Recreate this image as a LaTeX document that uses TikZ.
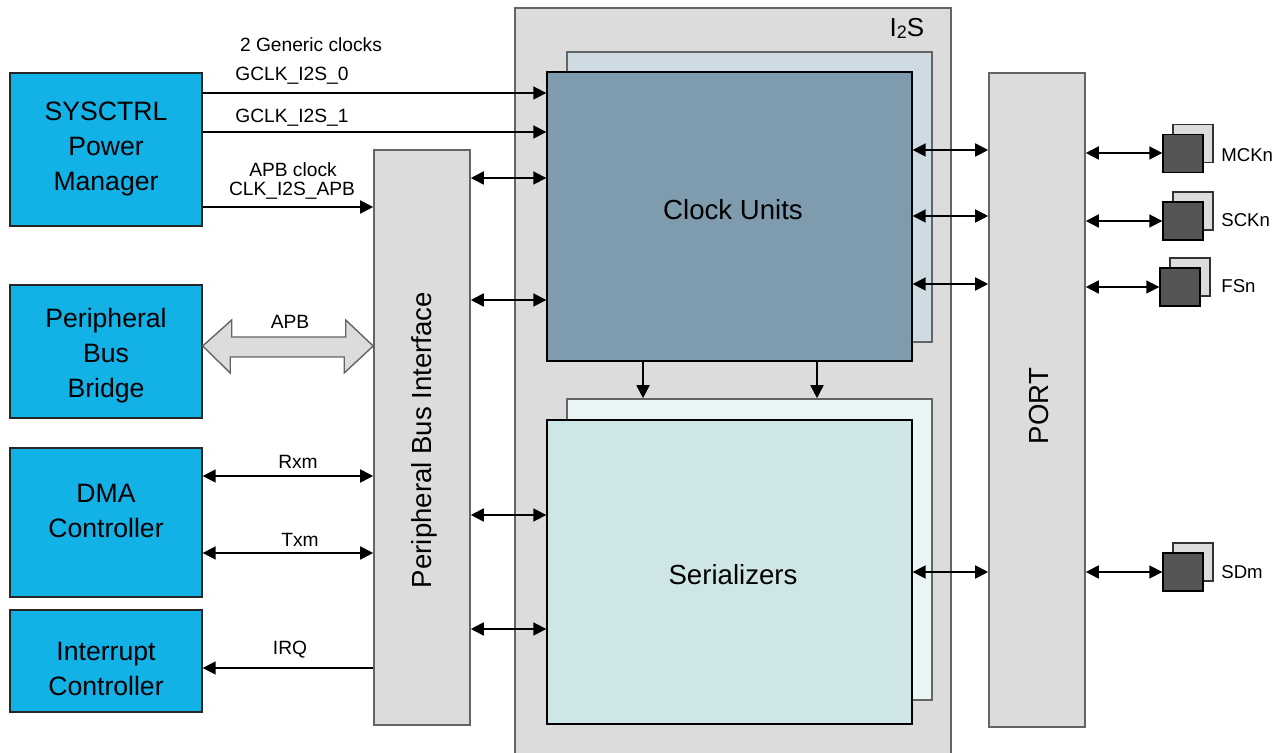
\documentclass[tikz,border=0pt]{standalone}
\usepackage{fontspec}
\setmainfont{Liberation Sans}
\usetikzlibrary{arrows.meta,calc}
\definecolor{ablue}{RGB}{18,178,230}
\definecolor{agray}{RGB}{220,220,220}
\definecolor{aline}{RGB}{100,100,100}
\definecolor{cufront}{RGB}{127,156,175}
\definecolor{cuback}{RGB}{207,219,226}
\definecolor{sefront}{RGB}{207,230,230}
\definecolor{seback}{RGB}{234,246,246}
\definecolor{pindark}{RGB}{85,85,85}
\tikzset{
  blk/.style={draw=black!85, line width=0.7pt, fill=ablue, inner sep=0pt},
  blkt/.style={align=center, font=\fontsize{13.3}{17.5}\selectfont, inner sep=0pt},
  gbox/.style={draw=aline, line width=0.8pt, fill=agray, inner sep=0pt},
  unitf/.style={draw=black, line width=0.7pt, inner sep=0pt},
  unitb/.style={draw=aline, line width=0.8pt, inner sep=0pt},
  big/.style={font=\fontsize{13.8}{16}\selectfont, inner sep=0pt},
  lbl/.style={font=\fontsize{9.6}{11}\selectfont, inner sep=1pt},
  arr/.style={line width=0.9pt, -{Triangle[length=6.5pt,width=6.5pt]}},
  darr/.style={line width=0.9pt, {Triangle[length=6.5pt,width=6.5pt]}-{Triangle[length=6.5pt,width=6.5pt]}},
  pinb/.style={draw=black!80, line width=0.6pt, fill=agray, minimum width=20pt, minimum height=19pt, inner sep=0pt},
  pinf/.style={draw=black, line width=0.7pt, fill=pindark, minimum width=20pt, minimum height=19pt, inner sep=0pt},
  pinl/.style={font=\fontsize{9.3}{11}\selectfont, anchor=west, inner sep=0pt},
  fat/.style={draw=aline, line width=0.7pt, fill=agray, line join=miter}
}
\begin{document}
\begin{tikzpicture}[x=0.5pt,y=-0.5pt]
\useasboundingbox (0,0) rectangle (1287,753);
% left blocks
\node[blk, minimum width=96pt, minimum height=76.5pt] (sys) at (106,149.5) {};
\node[blkt] (syst) at (106,148.5) {SYSCTRL\\Power\\Manager};
\node[blk, minimum width=96pt, minimum height=66.5pt] (pbb) at (106,351.5) {};
\node[blkt] (pbbt) at (106,356) {Peripheral\\Bus\\Bridge};
\node[blk, minimum width=96pt, minimum height=74.5pt] (dma) at (106,522.5) {};
\node[blkt] (dmat) at (106,511) {DMA\\Controller};
\node[blk, minimum width=96pt, minimum height=51pt] (irq) at (106,661) {};
\node[blkt] (irqt) at (106,669) {Interrupt\\Controller};
% I2S container
\node[gbox, minimum width=218pt, minimum height=376pt] (i2s) at (733,384) {};
\node[font=\fontsize{13}{15.5}\selectfont, inner sep=0pt] (i2slbl) at (907,28) {I\raisebox{-1pt}{\fontsize{9}{10}\selectfont 2}S};
% clock units
\node[unitb, fill=cuback, minimum width=182.5pt, minimum height=145pt] (cub) at (749.5,197) {};
\node[unitf, fill=cufront, minimum width=182.5pt, minimum height=144.5pt] (cuf) at (729.5,216.5) {};
\node[big] (cut) at (733,210) {Clock Units};
% serializers
\node[unitb, fill=seback, minimum width=182.5pt, minimum height=150.5pt] (seb) at (749.5,549.5) {};
\node[unitf, fill=sefront, minimum width=182.5pt, minimum height=152pt] (sef) at (729.5,572) {};
\node[big] (set) at (733,575) {Serializers};
% PBI and PORT
\node[gbox, minimum width=48pt, minimum height=287.5pt] (pbi) at (422,437.5) {};
\node[big, rotate=90] (pbit) at (424,440) {Peripheral Bus Interface};
\node[gbox, minimum width=48pt, minimum height=327pt] (port) at (1037,400) {};
\node[big, rotate=90] (portt) at (1039,406) {PORT};
% pins
\node[pinb] (mckb) at (1193,143.5) {};
\node[pinf] (mck) at (1183,153.5) {};
\node[pinl] (mckl) at (1221,155) {MCKn};
\node[pinb] (sckb) at (1193,211) {};
\node[pinf] (sck) at (1183,221) {};
\node[pinl] (sckl) at (1221,220) {SCKn};
\node[pinb] (fsb) at (1190,277) {};
\node[pinf] (fs) at (1180,287) {};
\node[pinl] (fsl) at (1221,286) {FSn};
\node[pinb] (sdb) at (1193,562) {};
\node[pinf] (sd) at (1183,572) {};
\node[pinl] (sdl) at (1221,572) {SDm};
% y levels
\coordinate (y93) at (0,93);
\coordinate (y132) at (0,132);
\coordinate (y207) at (0,207);
\coordinate (y178) at (0,178);
\coordinate (y300) at (0,300);
\coordinate (y346) at (0,346);
\coordinate (y476) at (0,476);
\coordinate (y553) at (0,553);
\coordinate (y668) at (0,668);
\coordinate (y515) at (0,515);
\coordinate (y629) at (0,629);
\coordinate (y150) at (0,150);
\coordinate (y216) at (0,216);
\coordinate (y284) at (0,284);
\coordinate (y572) at (0,572);
\coordinate (y153) at (0,153);
\coordinate (x643) at (643,0);
\coordinate (x817) at (817,0);
% clocks
\draw[arr] (sys.east |- y93) -- (cuf.west |- y93);
\draw[arr] (sys.east |- y132) -- (cuf.west |- y132);
\draw[arr] (sys.east |- y207) -- (pbi.west |- y207);
\node[lbl] (l2g) at (311,45) {2 Generic clocks};
\node[lbl] (lg0) at (292,76) {GCLK\_I2S\_0};
\node[lbl] (lg1) at (292,118) {GCLK\_I2S\_1};
\node[lbl] (lac) at (293,170) {APB clock};
\node[lbl] (lca) at (292,191) {CLK\_I2S\_APB};
% APB fat arrow
\draw[fat] (pbb.east |- y346) -- ++(29,-26) -- ++(0,17) -- ++(114,0) -- ++(0,-17) -- (pbi.west |- y346) -- ++(-29,27) -- ++(0,-16) -- ++(-114,0) -- ++(0,16) -- cycle;
\node[lbl] (lapb) at (290,322) {APB};
% DMA and IRQ
\draw[darr] (dma.east |- y476) -- (pbi.west |- y476);
\draw[darr] (dma.east |- y553) -- (pbi.west |- y553);
\draw[arr] (pbi.west |- y668) -- (irq.east |- y668);
\node[lbl] (lrx) at (298,462) {Rxm};
\node[lbl] (ltx) at (300,540) {Txm};
\node[lbl] (lirq) at (290,650) {IRQ};
% PBI to units
\draw[darr] (pbi.east |- y178) -- (cuf.west |- y178);
\draw[darr] (pbi.east |- y300) -- (cuf.west |- y300);
\draw[darr] (pbi.east |- y515) -- (sef.west |- y515);
\draw[darr] (pbi.east |- y629) -- (sef.west |- y629);
% clock units to serializers
\draw[arr] (cuf.south -| x643) -- (seb.north -| x643);
\draw[arr] (cuf.south -| x817) -- (seb.north -| x817);
% units to PORT
\draw[darr] (cuf.east |- y150) -- (port.west |- y150);
\draw[darr] (cuf.east |- y216) -- (port.west |- y216);
\draw[darr] (cuf.east |- y284) -- (port.west |- y284);
\draw[darr] (sef.east |- y572) -- (port.west |- y572);
% PORT to pins
\draw[darr] (port.east |- y153) -- (mck.west |- y153);
\draw[darr] (port.east |- sck.west) -- (sck.west);
\draw[darr] (port.east |- fs.west) -- (fs.west);
\draw[darr] (port.east |- sd.west) -- (sd.west);
\end{tikzpicture}
\end{document}
